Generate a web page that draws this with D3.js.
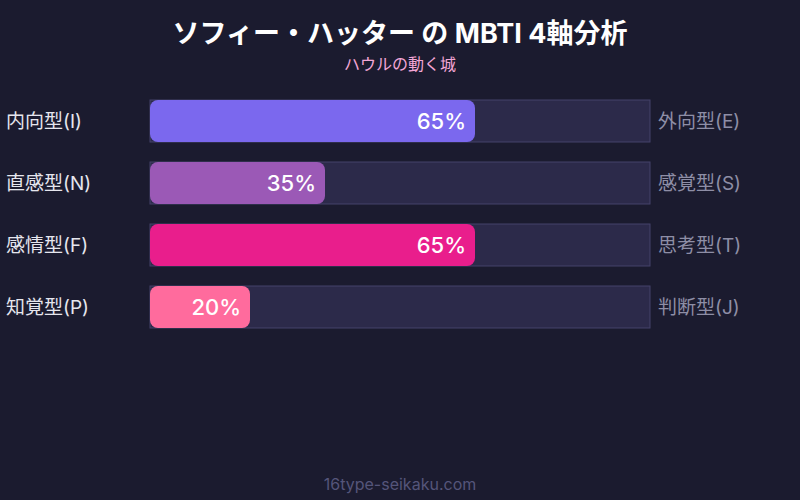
<!DOCTYPE html>
<html>
<head>
<meta charset="utf-8">
<script src="https://cdn.jsdelivr.net/npm/d3@7"></script>
<style>
  body { margin: 0; background: #1b1b2f; }
  svg { display: block; font-family: Inter, "Noto Sans CJK JP", sans-serif; }
</style>
</head>
<body>
<svg id="chart" width="800" height="500"></svg>
<script>
// MBTI axes data
var leftLabels = ["内向型(I)", "直感型(N)", "感情型(F)", "知覚型(P)"];
var rightLabels = ["外向型(E)", "感覚型(S)", "思考型(T)", "判断型(J)"];
var values = [65, 35, 65, 20];
var barColors = ["#7b68ee", "#9b59b6", "#e91e8c", "#ff6b9d"];

window.onload = function()
{
    main();
};

function main()
{
    var svg = d3.select("#chart"),
        W = 800,
        x = d3.scaleLinear().domain([0, 100]).range([150, 650]),
        // rows are 42px tall, 62px apart
        y = d3.scaleBand()
            .domain(d3.range(values.length))
            .range([100, 100 + 62 * values.length - 20])
            .paddingInner(20 / 62)
            .paddingOuter(0);

    svg.append("rect").attr("width", W).attr("height", 500).attr("fill", "#1b1b2f");

    // title + subtitle
    svg.append("text")
        .attr("x", W / 2).attr("y", 43)
        .attr("text-anchor", "middle")
        .attr("fill", "#ffffff")
        .attr("font-size", 27).attr("font-weight", "bold")
        .text("ソフィー・ハッター の MBTI 4軸分析");
    svg.append("text")
        .attr("x", W / 2).attr("y", 70)
        .attr("text-anchor", "middle")
        .attr("fill", "#f3a6d6")
        .attr("font-size", 16)
        .text("ハウルの動く城");

    var rows = svg.selectAll("g.row")
        .data(values)
        .enter().append("g")
        .attr("class", "row")
        .attr("transform", function(d, i) { return "translate(0," + y(i) + ")"; });

    // background track
    rows.append("rect")
        .attr("x", x(0)).attr("y", 0)
        .attr("width", x(100) - x(0))
        .attr("height", y.bandwidth())
        .attr("fill", "#2c2a4a")
        .attr("stroke", "#44426a")
        .attr("stroke-width", 1);

    // value bar
    rows.append("rect")
        .attr("x", x(0)).attr("y", 0)
        .attr("width", function(d) { return x(d) - x(0); })
        .attr("height", y.bandwidth())
        .attr("rx", 8).attr("ry", 8)
        .attr("fill", function(d, i) { return barColors[i]; });

    // percentage label inside bar
    rows.append("text")
        .attr("x", function(d) { return x(d) - 9; })
        .attr("y", y.bandwidth() / 2)
        .attr("dy", "0.36em")
        .attr("text-anchor", "end")
        .attr("fill", "#ffffff")
        .attr("font-size", 22).attr("font-weight", 500)
        .text(function(d) { return d + "%"; });

    // left/right axis names
    rows.append("text")
        .attr("x", 6)
        .attr("y", y.bandwidth() / 2)
        .attr("dy", "0.36em")
        .attr("fill", "#e6e6ee")
        .attr("font-size", 19)
        .text(function(d, i) { return leftLabels[i]; });
    rows.append("text")
        .attr("x", 658)
        .attr("y", y.bandwidth() / 2)
        .attr("dy", "0.36em")
        .attr("fill", "#8e8ea6")
        .attr("font-size", 19)
        .text(function(d, i) { return rightLabels[i]; });

    // footer
    svg.append("text")
        .attr("x", W / 2).attr("y", 490)
        .attr("text-anchor", "middle")
        .attr("fill", "#55557a")
        .attr("font-size", 16)
        .text("16type-seikaku.com");
}
</script>
</body>
</html>
